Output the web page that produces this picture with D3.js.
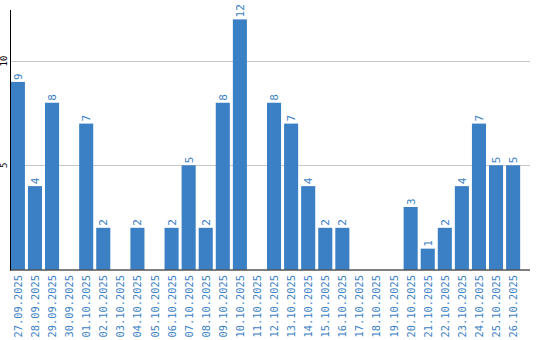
<!DOCTYPE html>
<html>
<head>
<meta charset="utf-8">
<script src="https://cdn.jsdelivr.net/npm/d3@7"></script>
<style>
  body { margin: 0; background: #fff; }
</style>
</head>
<body>
<div id="chart"></div>
<script>
/* data */
var days = ["27.09.2025", "28.09.2025", "29.09.2025", "30.09.2025", "01.10.2025",
    "02.10.2025", "03.10.2025", "04.10.2025", "05.10.2025", "06.10.2025",
    "07.10.2025", "08.10.2025", "09.10.2025", "10.10.2025", "11.10.2025",
    "12.10.2025", "13.10.2025", "14.10.2025", "15.10.2025", "16.10.2025",
    "17.10.2025", "18.10.2025", "19.10.2025", "20.10.2025", "21.10.2025",
    "22.10.2025", "23.10.2025", "24.10.2025", "25.10.2025", "26.10.2025"];
var counts = [9, 4, 8, 0, 7, 2, 0, 2, 0, 2, 5, 2, 8, 12, 0, 8, 7, 4, 2, 2, 0, 0, 0, 3, 1, 2, 4, 7, 5, 5];
var yTicks = [5, 10];

var width = 540;
var height = 340;
var padLeft = 10, padRight = 530, padTop = 10, baseY = 269.5;
var blue = "#3b7fc4";
var font = "'DejaVu Sans Mono', monospace";

var svg = d3.select("#chart")
    .append("svg")
    .attr("width", width)
    .attr("height", height);

/* scales */
var x = d3.scaleBand()
    .domain(days)
    .range([padLeft, 521])
    .paddingInner(3 / 17)
    .paddingOuter(0.05);

var y = d3.scaleLinear()
    .domain([0, 12.45])
    .range([baseY, padTop]);

/* grid lines */
svg.append("g")
    .selectAll("line")
    .data(yTicks)
    .enter().append("line")
    .attr("x1", padLeft)
    .attr("x2", padRight)
    .attr("y1", d => Math.round(y(d)) + 0.5)
    .attr("y2", d => Math.round(y(d)) + 0.5)
    .attr("stroke", "#c8c8c8")
    .attr("stroke-width", 1);

/* y tick labels, turned */
svg.append("g")
    .selectAll("text")
    .data(yTicks)
    .enter().append("text")
    .attr("transform", d => "translate(7," + y(d) + ") rotate(-90)")
    .attr("text-anchor", "middle")
    .attr("font-family", font)
    .attr("font-size", "9px")
    .attr("fill", "#000")
    .text(d => d);

/* bars */
svg.append("g")
    .selectAll("rect")
    .data(counts)
    .enter().append("rect")
    .attr("x", (d, i) => x(days[i]))
    .attr("y", d => y(d))
    .attr("width", x.bandwidth())
    .attr("height", d => baseY - y(d))
    .attr("fill", blue);

/* value labels above bars (none for empty days) */
svg.append("g")
    .selectAll("text")
    .data(counts.map((v, i) => ({ v: v, day: days[i] })).filter(d => d.v > 0))
    .enter().append("text")
    .attr("transform", d => "translate(" + (x(d.day) + x.bandwidth() / 2 + 4) + "," + (y(d.v) - 2) + ") rotate(-90)")
    .attr("text-anchor", "start")
    .attr("font-family", font)
    .attr("font-size", "11px")
    .attr("fill", blue)
    .text(d => d.v);

/* axis lines */
svg.append("line")
    .attr("x1", padLeft + 0.5).attr("x2", padLeft + 0.5)
    .attr("y1", padTop).attr("y2", baseY + 1)
    .attr("stroke", "#000");

svg.append("line")
    .attr("x1", padLeft).attr("x2", padRight)
    .attr("y1", baseY + 0.5).attr("y2", baseY + 0.5)
    .attr("stroke", "#000");

/* date labels */
svg.append("g")
    .selectAll("text")
    .data(days)
    .enter().append("text")
    .attr("transform", d => "translate(" + (x(d) + x.bandwidth() / 2 + 4) + "," + (baseY + 5.5) + ") rotate(-90)")
    .attr("text-anchor", "end")
    .attr("font-family", font)
    .attr("font-size", "10.4px")
    .attr("fill", blue)
    .text(d => d);
</script>
</body>
</html>
